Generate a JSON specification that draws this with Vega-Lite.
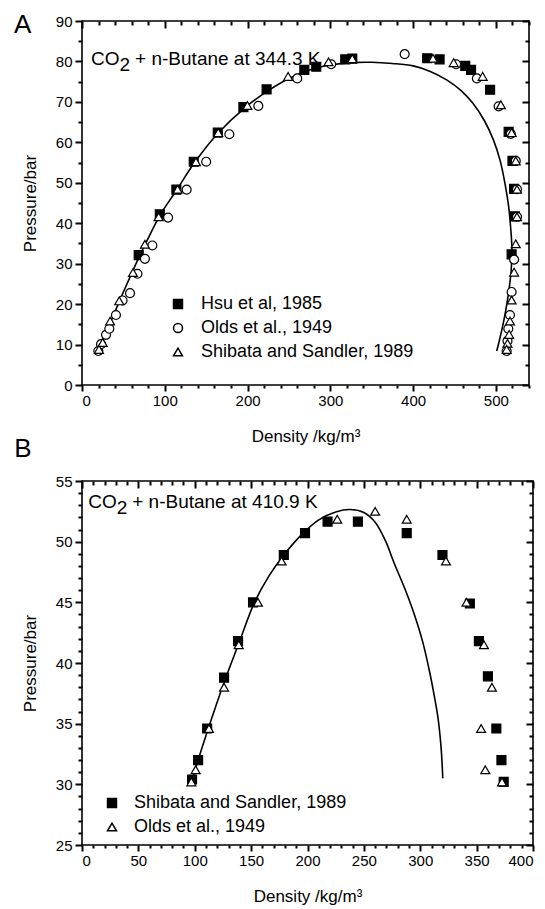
{
  "$schema": "https://vega.github.io/schema/vega-lite/v6.json",
  "background": "white",
  "padding": {"left": 13, "top": 11, "right": 10, "bottom": 0},
  "spacing": -11,
  "config": {
    "font": "Liberation Sans",
    "view": {"stroke": "black", "strokeWidth": 1.6},
    "axis": {"domain": false, "grid": false, "ticks": true, "labelFontSize": 15, "titleFontSize": 17, "titleFontWeight": "normal", "labelColor": "black", "titleColor": "black", "tickColor": "#000000", "tickWidth": 2, "tickOpacity": 1, "labelFont": "Liberation Sans", "titleFont": "Liberation Sans", "zindex": 1},
    "legend": {"labelFont": "Liberation Sans", "labelColor": "black", "labelLimit": 400}
  },
  "datasets": {
    "curveA": [
      {"i":1,"rho":19.5,"P":8.4},{"i":2,"rho":30,"P":13.4},{"i":3,"rho":40,"P":18.2},{"i":4,"rho":50,"P":23.0},{"i":5,"rho":60,"P":27.6},{"i":6,"rho":70,"P":32.1},{"i":7,"rho":80,"P":36.3},{"i":8,"rho":94,"P":41.9},{"i":9,"rho":114,"P":48.1},{"i":10,"rho":136,"P":55.0},{"i":11,"rho":164,"P":62.2},{"i":12,"rho":197,"P":68.6},{"i":13,"rho":225,"P":72.8},{"i":14,"rho":250,"P":75.8},{"i":15,"rho":275,"P":77.9},{"i":16,"rho":300,"P":79.1},{"i":17,"rho":325,"P":79.7},{"i":18,"rho":350,"P":79.8},{"i":19,"rho":375,"P":79.5},{"i":20,"rho":400,"P":78.9},{"i":21,"rho":420,"P":77.6},{"i":22,"rho":440,"P":75.5},{"i":23,"rho":458,"P":72.8},{"i":24,"rho":472,"P":69.7},{"i":25,"rho":486,"P":65.4},{"i":26,"rho":497,"P":60.6},{"i":27,"rho":505,"P":55.6},{"i":28,"rho":511,"P":49.8},{"i":29,"rho":515.5,"P":44.0},{"i":30,"rho":518,"P":38.5},{"i":31,"rho":519.3,"P":34.0},{"i":32,"rho":518.5,"P":28.5},{"i":33,"rho":515.5,"P":23.0},{"i":34,"rho":511.8,"P":18.3},{"i":35,"rho":507.8,"P":14.2},{"i":36,"rho":504.2,"P":11.0},{"i":37,"rho":501,"P":8.4}
    ],
    "ptsA": [
      {"src":"Hsu et al, 1985","rho":68.5,"P":32.1},{"src":"Hsu et al, 1985","rho":94,"P":42.2},{"src":"Hsu et al, 1985","rho":114,"P":48.3},{"src":"Hsu et al, 1985","rho":135,"P":55.2},{"src":"Hsu et al, 1985","rho":164,"P":62.4},{"src":"Hsu et al, 1985","rho":195,"P":68.7},{"src":"Hsu et al, 1985","rho":223,"P":73.1},{"src":"Hsu et al, 1985","rho":268.6,"P":77.9},{"src":"Hsu et al, 1985","rho":283,"P":78.7},{"src":"Hsu et al, 1985","rho":318,"P":80.5},{"src":"Hsu et al, 1985","rho":326.5,"P":80.7},{"src":"Hsu et al, 1985","rho":417,"P":80.8},{"src":"Hsu et al, 1985","rho":432,"P":80.5},{"src":"Hsu et al, 1985","rho":463,"P":78.9},{"src":"Hsu et al, 1985","rho":470,"P":77.9},{"src":"Hsu et al, 1985","rho":493,"P":73.0},{"src":"Hsu et al, 1985","rho":515.4,"P":62.6},{"src":"Hsu et al, 1985","rho":520,"P":55.4},{"src":"Hsu et al, 1985","rho":522,"P":48.5},{"src":"Hsu et al, 1985","rho":523,"P":41.7},{"src":"Hsu et al, 1985","rho":519,"P":32.3},
      {"src":"Olds et al., 1949","rho":19.7,"P":8.4},{"src":"Olds et al., 1949","rho":23,"P":10.1},{"src":"Olds et al., 1949","rho":29,"P":12.4},{"src":"Olds et al., 1949","rho":33,"P":13.9},{"src":"Olds et al., 1949","rho":41,"P":17.3},{"src":"Olds et al., 1949","rho":49,"P":20.9},{"src":"Olds et al., 1949","rho":58,"P":22.7},{"src":"Olds et al., 1949","rho":67,"P":27.5},{"src":"Olds et al., 1949","rho":76,"P":31.2},{"src":"Olds et al., 1949","rho":85,"P":34.5},{"src":"Olds et al., 1949","rho":104,"P":41.4},{"src":"Olds et al., 1949","rho":126.4,"P":48.3},{"src":"Olds et al., 1949","rho":150,"P":55.2},{"src":"Olds et al., 1949","rho":178,"P":62.0},{"src":"Olds et al., 1949","rho":213,"P":69.0},{"src":"Olds et al., 1949","rho":260,"P":75.8},{"src":"Olds et al., 1949","rho":301,"P":79.3},{"src":"Olds et al., 1949","rho":389.8,"P":81.8},{"src":"Olds et al., 1949","rho":452,"P":79.3},{"src":"Olds et al., 1949","rho":477,"P":75.8},{"src":"Olds et al., 1949","rho":503.3,"P":68.9},{"src":"Olds et al., 1949","rho":518,"P":62.1},{"src":"Olds et al., 1949","rho":524,"P":55.4},{"src":"Olds et al., 1949","rho":525.5,"P":48.4},{"src":"Olds et al., 1949","rho":525.5,"P":41.6},{"src":"Olds et al., 1949","rho":522,"P":31.0},{"src":"Olds et al., 1949","rho":519,"P":23.0},{"src":"Olds et al., 1949","rho":517,"P":17.3},{"src":"Olds et al., 1949","rho":515,"P":13.9},{"src":"Olds et al., 1949","rho":514,"P":10.9},{"src":"Olds et al., 1949","rho":513,"P":8.4},
      {"src":"Shibata and Sandler, 1989","rho":20.5,"P":8.8},{"src":"Shibata and Sandler, 1989","rho":25,"P":10.5},{"src":"Shibata and Sandler, 1989","rho":34,"P":15.8},{"src":"Shibata and Sandler, 1989","rho":45,"P":20.8},{"src":"Shibata and Sandler, 1989","rho":61.6,"P":27.8},{"src":"Shibata and Sandler, 1989","rho":76,"P":34.8},{"src":"Shibata and Sandler, 1989","rho":92.6,"P":41.6},{"src":"Shibata and Sandler, 1989","rho":115.5,"P":48.4},{"src":"Shibata and Sandler, 1989","rho":137.7,"P":55.2},{"src":"Shibata and Sandler, 1989","rho":164.6,"P":62.4},{"src":"Shibata and Sandler, 1989","rho":199.8,"P":69.1},{"src":"Shibata and Sandler, 1989","rho":249,"P":76.3},{"src":"Shibata and Sandler, 1989","rho":297.8,"P":79.9},{"src":"Shibata and Sandler, 1989","rho":326.5,"P":80.7},{"src":"Shibata and Sandler, 1989","rho":424,"P":80.8},{"src":"Shibata and Sandler, 1989","rho":449,"P":79.7},{"src":"Shibata and Sandler, 1989","rho":484,"P":76.3},{"src":"Shibata and Sandler, 1989","rho":506,"P":69.3},{"src":"Shibata and Sandler, 1989","rho":519,"P":62.4},{"src":"Shibata and Sandler, 1989","rho":524,"P":55.4},{"src":"Shibata and Sandler, 1989","rho":525.5,"P":48.4},{"src":"Shibata and Sandler, 1989","rho":525.5,"P":41.6},{"src":"Shibata and Sandler, 1989","rho":524,"P":34.9},{"src":"Shibata and Sandler, 1989","rho":522,"P":27.9},{"src":"Shibata and Sandler, 1989","rho":519,"P":21.0},{"src":"Shibata and Sandler, 1989","rho":517,"P":15.8},{"src":"Shibata and Sandler, 1989","rho":516,"P":12.5},{"src":"Shibata and Sandler, 1989","rho":514,"P":10.3},{"src":"Shibata and Sandler, 1989","rho":513,"P":8.8}
    ],
    "noteA": [{"rho": 11, "P": 79.1, "a": "CO", "b": "2", "c": "+ n-Butane at 344.3 K"}],
    "labA": [{"rho": -82, "P": 87, "t": "A"}],
    "curveB": [
      {"i":1,"rho":97.5,"P":30.3},{"i":2,"rho":103,"P":32.0},{"i":3,"rho":112,"P":34.6},{"i":4,"rho":126,"P":38.4},{"i":5,"rho":139,"P":41.6},{"i":6,"rho":153,"P":45.0},{"i":7,"rho":166,"P":47.2},{"i":8,"rho":179,"P":48.9},{"i":9,"rho":195,"P":50.6},{"i":10,"rho":210,"P":51.8},{"i":11,"rho":225,"P":52.45},{"i":12,"rho":238,"P":52.65},{"i":13,"rho":250,"P":52.4},{"i":14,"rho":260,"P":51.6},{"i":15,"rho":269,"P":50.1},{"i":16,"rho":277,"P":48.2},{"i":17,"rho":286,"P":46.2},{"i":18,"rho":294,"P":44.2},{"i":19,"rho":302,"P":41.8},{"i":20,"rho":308,"P":39.4},{"i":21,"rho":313,"P":37.0},{"i":22,"rho":316,"P":35.3},{"i":23,"rho":318.5,"P":33.0},{"i":24,"rho":320,"P":30.5}
    ],
    "ptsB": [
      {"src":"Shibata and Sandler, 1989","rho":97.6,"P":30.4},{"src":"Shibata and Sandler, 1989","rho":103,"P":32.0},{"src":"Shibata and Sandler, 1989","rho":111,"P":34.6},{"src":"Shibata and Sandler, 1989","rho":126,"P":38.8},{"src":"Shibata and Sandler, 1989","rho":138.4,"P":41.8},{"src":"Shibata and Sandler, 1989","rho":151.7,"P":45.0},{"src":"Shibata and Sandler, 1989","rho":179,"P":48.9},{"src":"Shibata and Sandler, 1989","rho":197.8,"P":50.7},{"src":"Shibata and Sandler, 1989","rho":217.8,"P":51.65},{"src":"Shibata and Sandler, 1989","rho":244.7,"P":51.65},{"src":"Shibata and Sandler, 1989","rho":288,"P":50.7},{"src":"Shibata and Sandler, 1989","rho":319.7,"P":48.9},{"src":"Shibata and Sandler, 1989","rho":344,"P":44.9},{"src":"Shibata and Sandler, 1989","rho":352,"P":41.8},{"src":"Shibata and Sandler, 1989","rho":360,"P":38.9},{"src":"Shibata and Sandler, 1989","rho":367.5,"P":34.6},{"src":"Shibata and Sandler, 1989","rho":372,"P":32.0},{"src":"Shibata and Sandler, 1989","rho":374,"P":30.2},
      {"src":"Olds et al., 1949","rho":97,"P":30.2},{"src":"Olds et al., 1949","rho":100.8,"P":31.2},{"src":"Olds et al., 1949","rho":112.6,"P":34.6},{"src":"Olds et al., 1949","rho":126,"P":38.0},{"src":"Olds et al., 1949","rho":139,"P":41.5},{"src":"Olds et al., 1949","rho":156,"P":45.0},{"src":"Olds et al., 1949","rho":177,"P":48.4},{"src":"Olds et al., 1949","rho":226.4,"P":51.85},{"src":"Olds et al., 1949","rho":260,"P":52.5},{"src":"Olds et al., 1949","rho":288,"P":51.85},{"src":"Olds et al., 1949","rho":322.8,"P":48.4},{"src":"Olds et al., 1949","rho":341,"P":45.0},{"src":"Olds et al., 1949","rho":356.5,"P":41.5},{"src":"Olds et al., 1949","rho":363.6,"P":38.0},{"src":"Olds et al., 1949","rho":354,"P":34.6},{"src":"Olds et al., 1949","rho":357.7,"P":31.2},{"src":"Olds et al., 1949","rho":372.5,"P":30.2}
    ],
    "noteB": [{"rho": 5.5, "P": 52.75, "a": "CO", "b": "2", "c": "+ n-Butane at 410.9 K"}],
    "labB": [{"rho": -60, "P": 57, "t": "B"}]
  },
  "resolve": {"scale": {"shape": "independent", "fill": "independent"}, "legend": {"shape": "independent", "fill": "independent"}},
  "vconcat": [
    {
      "width": 447, "height": 364,
      "layer": [
        {
          "data": {"name": "curveA"},
          "mark": {"type": "line", "color": "black", "strokeWidth": 1.6, "interpolate": "catmull-rom"},
          "encoding": {
            "x": {"field": "rho", "type": "quantitative", "scale": {"domain": [0, 540], "nice": false, "zero": false}, "axis": {"orient": "bottom", "values": [0,100,200,300,400,500], "tickSize": 6, "labelPadding": 2, "title": "Density /kg/m³", "titlePadding": 20}},
            "y": {"field": "P", "type": "quantitative", "scale": {"domain": [0, 90], "nice": false, "zero": false}, "axis": {"orient": "left", "values": [0,10,20,30,40,50,60,70,80,90], "tickSize": 7, "labelPadding": 3, "title": "Pressure/bar", "titlePadding": 16}},
            "order": {"field": "i", "type": "quantitative"}
          }
        },
        {
          "data": {"name": "ptsA"},
          "mark": {"type": "point", "filled": true, "stroke": "black", "strokeWidth": 1.2, "size": 80, "opacity": 1},
          "encoding": {
            "x": {"field": "rho", "type": "quantitative", "scale": {"domain": [0, 540], "nice": false, "zero": false}, "axis": {"orient": "bottom", "values": [20,40,60,80,120,140,160,180,220,240,260,280,320,340,360,380,420,440,460,480,520,540], "tickSize": 3, "labels": false, "title": null}},
            "y": {"field": "P", "type": "quantitative", "scale": {"domain": [0, 90], "nice": false, "zero": false}, "axis": {"orient": "left", "values": [5,15,25,35,45,55,65,75,85], "tickSize": 4, "labels": false, "title": null}},
            "shape": {"field": "src", "type": "nominal", "scale": {"domain": ["Hsu et al, 1985", "Olds et al., 1949", "Shibata and Sandler, 1989"], "range": ["square", "circle", "triangle-up"]}, "legend": {"orient": "none", "legendX": 87, "legendY": 274, "title": null, "labelFontSize": 18, "rowPadding": 6, "labelOffset": 14, "symbolSize": 80, "padding": 0, "encode": {"symbols": {"update": {"stroke": {"value": "black"}, "strokeWidth": {"value": 1.2}}}}}},
            "fill": {"field": "src", "type": "nominal", "scale": {"domain": ["Hsu et al, 1985", "Olds et al., 1949", "Shibata and Sandler, 1989"], "range": ["black", "white", "white"]}, "legend": {"orient": "none", "legendX": 87, "legendY": 274, "title": null, "labelFontSize": 18, "rowPadding": 6, "labelOffset": 14, "symbolSize": 80, "padding": 0, "encode": {"symbols": {"update": {"stroke": {"value": "black"}, "strokeWidth": {"value": 1.2}}}}}}
          }
        },
        {
          "data": {"name": "noteA"},
          "mark": {"type": "text", "fontSize": 19, "align": "left", "baseline": "alphabetic", "color": "black"},
          "encoding": {
            "x": {"field": "rho", "type": "quantitative", "scale": {"domain": [0, 540], "nice": false, "zero": false}, "axis": {"orient": "top", "values": [0,100,200,300,400,500], "tickSize": 7, "offset": -7, "labels": false, "title": null}},
            "y": {"field": "P", "type": "quantitative", "scale": {"domain": [0, 90], "nice": false, "zero": false}, "axis": {"orient": "right", "values": [0,10,20,30,40,50,60,70,80,90], "tickSize": 7, "offset": -7, "labels": false, "title": null}},
            "text": {"field": "a"}
          }
        },
        {
          "data": {"name": "noteA"},
          "mark": {"type": "text", "fontSize": 19, "align": "left", "baseline": "alphabetic", "dx": 28.5, "dy": 6, "color": "black"},
          "encoding": {
            "x": {"field": "rho", "type": "quantitative", "scale": {"domain": [0, 540], "nice": false, "zero": false}, "axis": {"orient": "top", "values": [20,40,60,80,120,140,160,180,220,240,260,280,320,340,360,380,420,440,460,480,520,540], "tickSize": 4, "offset": -4, "labels": false, "title": null}},
            "y": {"field": "P", "type": "quantitative", "scale": {"domain": [0, 90], "nice": false, "zero": false}, "axis": {"orient": "right", "values": [5,15,25,35,45,55,65,75,85], "tickSize": 4, "offset": -4, "labels": false, "title": null}},
            "text": {"field": "b"}
          }
        },
        {
          "data": {"name": "noteA"},
          "mark": {"type": "text", "fontSize": 19, "align": "left", "baseline": "alphabetic", "dx": 44, "color": "black"},
          "encoding": {
            "x": {"field": "rho", "type": "quantitative", "scale": {"domain": [0, 540], "nice": false, "zero": false}, "axis": null},
            "y": {"field": "P", "type": "quantitative", "scale": {"domain": [0, 90], "nice": false, "zero": false}, "axis": null},
            "text": {"field": "c"}
          }
        },
        {
          "data": {"name": "labA"},
          "mark": {"type": "text", "fontSize": 26, "align": "left", "baseline": "alphabetic", "color": "black"},
          "encoding": {
            "x": {"field": "rho", "type": "quantitative", "scale": {"domain": [0, 540], "nice": false, "zero": false}, "axis": null},
            "y": {"field": "P", "type": "quantitative", "scale": {"domain": [0, 90], "nice": false, "zero": false}, "axis": null},
            "text": {"field": "t"}
          }
        }
      ],
      "resolve": {"axis": {"x": "independent", "y": "independent"}}
    },
    {
      "width": 451, "height": 364,
      "layer": [
        {
          "data": {"name": "curveB"},
          "mark": {"type": "line", "color": "black", "strokeWidth": 1.6, "interpolate": "catmull-rom"},
          "encoding": {
            "x": {"field": "rho", "type": "quantitative", "scale": {"domain": [0, 400], "nice": false, "zero": false}, "axis": {"orient": "bottom", "values": [0,50,100,150,200,250,300,350,400], "tickSize": 6, "labelPadding": 2, "title": "Density /kg/m³", "titlePadding": 20}},
            "y": {"field": "P", "type": "quantitative", "scale": {"domain": [25, 55], "nice": false, "zero": false}, "axis": {"orient": "left", "values": [25,30,35,40,45,50,55], "tickSize": 7, "labelPadding": 3, "title": "Pressure/bar", "titlePadding": 16}},
            "order": {"field": "i", "type": "quantitative"}
          }
        },
        {
          "data": {"name": "ptsB"},
          "mark": {"type": "point", "filled": true, "stroke": "black", "strokeWidth": 1.2, "size": 80, "opacity": 1},
          "encoding": {
            "x": {"field": "rho", "type": "quantitative", "scale": {"domain": [0, 400], "nice": false, "zero": false}, "axis": {"orient": "bottom", "values": [10,20,30,40,60,70,80,90,110,120,130,140,160,170,180,190,210,220,230,240,260,270,280,290,310,320,330,340,360,370,380,390], "tickSize": 3, "labels": false, "title": null}},
            "y": {"field": "P", "type": "quantitative", "scale": {"domain": [25, 55], "nice": false, "zero": false}, "axis": {"orient": "left", "values": [26,27,28,29,31,32,33,34,36,37,38,39,41,42,43,44,46,47,48,49,51,52,53,54], "tickSize": 4, "labels": false, "title": null}},
            "shape": {"field": "src", "type": "nominal", "scale": {"domain": ["Shibata and Sandler, 1989", "Olds et al., 1949"], "range": ["square", "triangle-up"]}, "legend": {"orient": "none", "legendX": 21, "legendY": 313, "title": null, "labelFontSize": 18, "rowPadding": 6, "labelOffset": 13, "symbolSize": 80, "padding": 0, "encode": {"symbols": {"update": {"stroke": {"value": "black"}, "strokeWidth": {"value": 1.2}}}}}},
            "fill": {"field": "src", "type": "nominal", "scale": {"domain": ["Shibata and Sandler, 1989", "Olds et al., 1949"], "range": ["black", "white"]}, "legend": {"orient": "none", "legendX": 21, "legendY": 313, "title": null, "labelFontSize": 18, "rowPadding": 6, "labelOffset": 13, "symbolSize": 80, "padding": 0, "encode": {"symbols": {"update": {"stroke": {"value": "black"}, "strokeWidth": {"value": 1.2}}}}}}
          }
        },
        {
          "data": {"name": "noteB"},
          "mark": {"type": "text", "fontSize": 19, "align": "left", "baseline": "alphabetic", "color": "black"},
          "encoding": {
            "x": {"field": "rho", "type": "quantitative", "scale": {"domain": [0, 400], "nice": false, "zero": false}, "axis": {"orient": "top", "values": [0,50,100,150,200,250,300,350,400], "tickSize": 7, "offset": -7, "labels": false, "title": null}},
            "y": {"field": "P", "type": "quantitative", "scale": {"domain": [25, 55], "nice": false, "zero": false}, "axis": {"orient": "right", "values": [25,30,35,40,45,50,55], "tickSize": 7, "offset": -7, "labels": false, "title": null}},
            "text": {"field": "a"}
          }
        },
        {
          "data": {"name": "noteB"},
          "mark": {"type": "text", "fontSize": 19, "align": "left", "baseline": "alphabetic", "dx": 28.5, "dy": 6, "color": "black"},
          "encoding": {
            "x": {"field": "rho", "type": "quantitative", "scale": {"domain": [0, 400], "nice": false, "zero": false}, "axis": {"orient": "top", "values": [10,20,30,40,60,70,80,90,110,120,130,140,160,170,180,190,210,220,230,240,260,270,280,290,310,320,330,340,360,370,380,390], "tickSize": 4, "offset": -4, "labels": false, "title": null}},
            "y": {"field": "P", "type": "quantitative", "scale": {"domain": [25, 55], "nice": false, "zero": false}, "axis": {"orient": "right", "values": [26,27,28,29,31,32,33,34,36,37,38,39,41,42,43,44,46,47,48,49,51,52,53,54], "tickSize": 4, "offset": -4, "labels": false, "title": null}},
            "text": {"field": "b"}
          }
        },
        {
          "data": {"name": "noteB"},
          "mark": {"type": "text", "fontSize": 19, "align": "left", "baseline": "alphabetic", "dx": 44, "color": "black"},
          "encoding": {
            "x": {"field": "rho", "type": "quantitative", "scale": {"domain": [0, 400], "nice": false, "zero": false}, "axis": null},
            "y": {"field": "P", "type": "quantitative", "scale": {"domain": [25, 55], "nice": false, "zero": false}, "axis": null},
            "text": {"field": "c"}
          }
        },
        {
          "data": {"name": "labB"},
          "mark": {"type": "text", "fontSize": 26, "align": "left", "baseline": "alphabetic", "color": "black"},
          "encoding": {
            "x": {"field": "rho", "type": "quantitative", "scale": {"domain": [0, 400], "nice": false, "zero": false}, "axis": null},
            "y": {"field": "P", "type": "quantitative", "scale": {"domain": [25, 55], "nice": false, "zero": false}, "axis": null},
            "text": {"field": "t"}
          }
        }
      ],
      "resolve": {"axis": {"x": "independent", "y": "independent"}}
    }
  ]
}
